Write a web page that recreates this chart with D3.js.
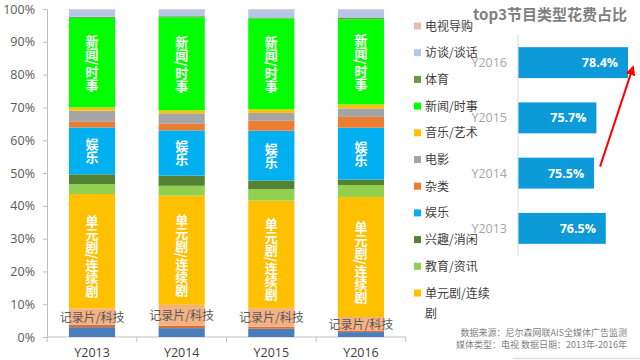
<!DOCTYPE html>
<html><head><meta charset="utf-8">
<script src="https://cdn.jsdelivr.net/npm/d3@7/dist/d3.min.js"></script>
<style>
body{margin:0;background:#fff;}
svg{display:block;font-family:"Noto Sans CJK SC","Noto Sans",sans-serif;}
</style></head>
<body><svg id="c" width="640" height="360"></svg>
<script>
const years = ["Y2013","Y2014","Y2015","Y2016"];
// series from bottom to top of the stacked bars
const seriesNames = ["其他A","其他B","记录片/科技","单元剧/连续剧","教育/资讯","兴趣/消闲","娱乐","杂类","电影","音乐/艺术","新闻/时事","体育","访谈/谈话","电视导购"];
const seriesColors = ["#4A7EBB","#D8703A","#F4B183","#FFC000","#92D050","#548235","#00B0F0","#ED7D31","#A5A5A5","#FFC000","#00FF00","#6A9A46","#B4C7E7","#F2B8B5"];
const v_otherA  = [3.0, 2.7, 2.5, 1.5];
const v_otherB  = [0.7, 0.7, 0.6, 0.5];
const v_doc     = [5.0, 6.4, 5.7, 4.1];
const v_drama   = [34.9, 33.3, 32.8, 36.6];
const v_edu     = [3.0, 3.0, 3.5, 3.6];
const v_hobby   = [3.0, 3.1, 2.6, 1.7];
const v_ent     = [14.3, 13.8, 15.2, 15.8];
const v_misc    = [1.7, 2.0, 3.0, 3.3];
const v_movie   = [3.4, 3.2, 2.4, 2.6];
const v_music   = [1.0, 0.9, 1.1, 1.2];
const v_news    = [27.3, 28.4, 27.7, 26.0];
const v_sports  = [0.3, 0.3, 0.3, 0.5];
const v_talk    = [2.2, 2.0, 2.4, 2.4];
const v_shop    = [0.2, 0.2, 0.2, 0.2];
const seriesValues = [v_otherA,v_otherB,v_doc,v_drama,v_edu,v_hobby,v_ent,v_misc,v_movie,v_music,v_news,v_sports,v_talk,v_shop];
const yTicks = [0,10,20,30,40,50,60,70,80,90,100];
// legend (top to bottom as shown)
const legendNames = ["电视导购","访谈/谈话","体育","新闻/时事","音乐/艺术","电影","杂类","娱乐","兴趣/消闲","教育/资讯","单元剧/连续剧"];
// inner vertical labels
const innerLabels = {"新闻/时事":"新闻/时事","娱乐":"娱乐","单元剧/连续剧":"单元剧/连续剧"};
// top3 mini chart
const top3Years = ["Y2016","Y2015","Y2014","Y2013"];
const top3Values = [78.4, 75.7, 75.5, 76.5];
const top3Title = "top3节目类型花费占比";
const sourceLines = ["数据来源：尼尔森网联AIS全媒体广告监测","媒体类型：电视  数据日期：2013年-2016年"];

const svg = d3.select("#c");
const table = years.map((y,i)=>{const o={year:y}; seriesNames.forEach((s,k)=>o[s]=seriesValues[k][i]); return o;});
const stack = d3.stack().keys(seriesNames)(table);

const x = d3.scaleBand().domain(years).range([47,406]).paddingInner(0.485).paddingOuter(0.245);
const y = d3.scaleLinear().domain([0,100]).range([337,9]);

// axes
const gy = svg.append("g").attr("transform","translate(47,0)")
  .call(d3.axisLeft(y).tickValues(yTicks).tickFormat(d=>d+"%").tickSize(4).tickPadding(8));
gy.select(".domain").attr("stroke","#BFBFBF");
gy.selectAll(".tick line").attr("stroke","#BFBFBF");
gy.selectAll("text").attr("fill","#595959").style("font-size","12.5px").style("font-family","'Open Sans','Noto Sans',sans-serif");

const bounds = [47, ...years.map(d=>x(d)+x.bandwidth()+(x.step()-x.bandwidth())/2)];
svg.append("line").attr("x1",47).attr("x2",406).attr("y1",337).attr("y2",337).attr("stroke","#BFBFBF");
svg.selectAll(".xt").data(bounds).join("line").attr("x1",d=>d).attr("x2",d=>d).attr("y1",337).attr("y2",342).attr("stroke","#BFBFBF");
svg.selectAll(".xl").data(years).join("text").attr("x",d=>x(d)+x.bandwidth()/2).attr("y",357)
  .attr("text-anchor","middle").attr("fill","#404040").style("font-size","12.5px").style("font-family","'Open Sans','Noto Sans',sans-serif").text(d=>d);

// bars
const layers = svg.append("g").selectAll("g").data(stack).join("g").attr("fill",(d,i)=>seriesColors[i]);
layers.selectAll("rect").data(d=>d).join("rect")
  .attr("x",d=>x(d.data.year)).attr("width",x.bandwidth())
  .attr("y",d=>y(d[1])).attr("height",d=>y(d[0])-y(d[1]));

// inner vertical labels
stack.forEach(layer=>{
  if(!innerLabels[layer.key]) return;
  layer.forEach(d=>{
    svg.append("text").attr("x",x(d.data.year)+x.bandwidth()/2).attr("y",(y(d[0])+y(d[1]))/2+ (layer.key==="单元剧/连续剧"?5:0))
      .attr("text-anchor","middle").style("writing-mode","vertical-rl")
      .attr("fill","#fff").style("font-size","13px").style("font-weight","bold").text(innerLabels[layer.key]);
  });
});
// 记录片/科技 horizontal labels
const docLayer = stack[2];
docLayer.forEach(d=>{
  svg.append("text").attr("x",x(d.data.year)+x.bandwidth()/2).attr("y",(y(d[0])+y(d[1]))/2+5)
    .attr("text-anchor","middle").attr("fill","#595959").style("font-size","12px").text("记录片/科技");
});

// legend
const lg = svg.append("g").attr("transform","translate(414,26)");
legendNames.forEach((n,i)=>{
  const k = seriesNames.indexOf(n);
  const g = lg.append("g").attr("transform",`translate(0,${i*26.7})`);
  g.append("rect").attr("x",0).attr("y",-3.5).attr("width",7).attr("height",7).attr("fill",seriesColors[k]);
  if(n==="单元剧/连续剧"){
    g.append("text").attr("x",11).attr("y",4.5).attr("fill","#404040").style("font-size","12px").text("单元剧/连续");
    g.append("text").attr("x",11).attr("y",24.5).attr("fill","#404040").style("font-size","12px").text("剧");
  } else {
    g.append("text").attr("x",11).attr("y",4.5).attr("fill","#404040").style("font-size","12px").text(n);
  }
});

// top3 mini chart
svg.append("text").attr("x",627).attr("y",20).attr("text-anchor","end").attr("fill","#7F7F7F")
  .style("font-size","15px").style("font-weight","bold").text(top3Title);
const yb = d3.scaleBand().domain(top3Years).range([35,256]).paddingInner(0.44).paddingOuter(0.22);
const xb = d3.scaleLinear().domain([69,78.4]).range([518,628]);
svg.selectAll(".tb").data(top3Years).join("rect").attr("x",518).attr("y",d=>yb(d))
  .attr("width",(d,i)=>xb(top3Values[i])-518).attr("height",yb.bandwidth()).attr("fill","#0C9AD8");
svg.append("line").attr("x1",518).attr("x2",518).attr("y1",35).attr("y2",256).attr("stroke","#D9D9D9");
svg.selectAll(".tyl").data(top3Years).join("text").attr("x",507).attr("y",d=>yb(d)+yb.bandwidth()/2+4.5)
  .attr("text-anchor","end").attr("fill","#A6A6A6").style("font-size","12.5px").style("font-family","'Open Sans','Noto Sans',sans-serif").text(d=>d);
svg.selectAll(".tvl").data(top3Years).join("text").attr("x",(d,i)=>xb(top3Values[i])-28).attr("y",d=>yb(d)+yb.bandwidth()/2+4.5)
  .attr("text-anchor","middle").attr("fill","#fff").style("font-size","12.5px").style("font-weight","bold")
  .style("font-family","'Open Sans','Noto Sans',sans-serif").text((d,i)=>top3Values[i].toFixed(1)+"%");

// red arrow
const defs = svg.append("defs");
defs.append("marker").attr("id","ah").attr("viewBox","0 0 10 10").attr("refX",8).attr("refY",5)
  .attr("markerWidth",5).attr("markerHeight",5).attr("orient","auto")
  .append("path").attr("d","M0,0 L10,5 L0,10 z").attr("fill","#FF0000");
const i14 = top3Years.indexOf("Y2014"), i16 = top3Years.indexOf("Y2016");
svg.append("line").attr("x1",xb(top3Values[i14])+6).attr("y1",yb("Y2014")+9)
  .attr("x2",xb(top3Values[i16])+5).attr("y2",yb("Y2016")+20)
  .attr("stroke","#FF0000").attr("stroke-width",2).attr("marker-end","url(#ah)");

// source
sourceLines.forEach((t,i)=>{
  svg.append("text").attr("x",627).attr("y",336+i*12).attr("text-anchor","end").attr("fill","#7F7F7F")
    .style("font-size","9px").text(t);
});
svg.append("line").attr("x1",513).attr("x2",640).attr("y1",358.5).attr("y2",358.5).attr("stroke","#D9D9D9");
</script></body></html>
